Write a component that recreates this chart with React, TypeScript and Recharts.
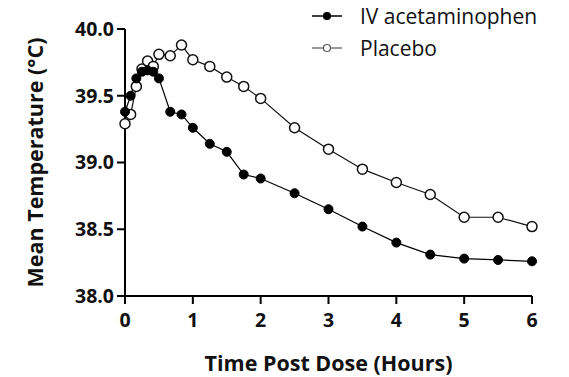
import { LineChart, Line, XAxis, YAxis } from "recharts";

const hours = [0, 0.083, 0.167, 0.25, 0.333, 0.417, 0.5, 0.667, 0.833, 1, 1.25, 1.5, 1.75, 2, 2.5, 3, 3.5, 4, 4.5, 5, 5.5, 6];

const ivAcetaminophen = [39.38, 39.5, 39.63, 39.68, 39.69, 39.68, 39.63, 39.38, 39.36, 39.26, 39.14, 39.08, 38.91, 38.88, 38.77, 38.65, 38.52, 38.4, 38.31, 38.28, 38.27, 38.26];
const placebo = [39.29, 39.36, 39.57, 39.7, 39.76, 39.72, 39.81, 39.8, 39.88, 39.77, 39.72, 39.64, 39.57, 39.48, 39.26, 39.1, 38.95, 38.85, 38.76, 38.59, 38.59, 38.52];

const xTicks = [0, 1, 2, 3, 4, 5, 6];
const yTicks = [38, 38.5, 39, 39.5, 40];

const seriesNames = ["IV acetaminophen", "Placebo"];

const data = hours.map((h, i) => ({ hour: h, iv: ivAcetaminophen[i], placebo: placebo[i] }));

const FONT = "'Open Sans', 'DejaVu Sans', sans-serif";
const tickStyle = { fill: "#111", fontSize: 19.5, fontWeight: 700, fontFamily: FONT };
const titleStyle = { fill: "#111", fontSize: 21.5, fontWeight: 700, fontFamily: FONT };

function LegendBox() {
  return (
    <div style={{ position: "absolute", left: 308, top: 0, fontFamily: FONT, fontSize: 21, color: "#111" }}>
      {seriesNames.map((name, i) => (
        <div key={name} style={{ display: "flex", alignItems: "center", height: 32 }}>
          <svg width={52} height={14}>
            <line x1={4} x2={34} y1={7} y2={7} stroke={i === 0 ? "#000" : "#777"} strokeWidth={1.5} />
            <circle cx={19} cy={7} r={3.5} fill={i === 0 ? "#000" : "#fff"} stroke={i === 0 ? "#000" : "#555"} strokeWidth={1.2} />
          </svg>
          <span>{name}</span>
        </div>
      ))}
    </div>
  );
}

export default function App() {
  return (
    <div style={{ position: "absolute", left: 0, top: 0, width: 569, height: 377, background: "#fff" }}>
      <LineChart width={569} height={377} data={data} margin={{ top: 29, right: 37, bottom: 0, left: 0 }}>
        <XAxis
          dataKey="hour"
          type="number"
          domain={[0, 6]}
          ticks={xTicks}
          height={81}
          tickSize={8}
          tickMargin={9}
          axisLine={{ stroke: "#000", strokeWidth: 2 }}
          tickLine={{ stroke: "#000", strokeWidth: 2 }}
          tick={tickStyle}
          label={{ value: "Time Post Dose (Hours)", position: "insideBottom", offset: 6, style: titleStyle }}
        />
        <YAxis
          type="number"
          domain={[38, 40]}
          ticks={yTicks}
          width={125}
          tickSize={8}
          tickMargin={3}
          tickFormatter={(v: number) => v.toFixed(1)}
          axisLine={{ stroke: "#000", strokeWidth: 2 }}
          tickLine={{ stroke: "#000", strokeWidth: 2 }}
          tick={tickStyle}
          label={{
            value: "Mean Temperature (°C)",
            angle: -90,
            position: "insideLeft",
            offset: 35,
            style: { ...titleStyle, textAnchor: "middle" },
          }}
        />
        <Line
          dataKey="placebo"
          name="Placebo"
          stroke="#111"
          strokeWidth={1.2}
          isAnimationActive={false}
          dot={{ r: 5, fill: "#fff", stroke: "#111", strokeWidth: 1.5 }}
        />
        <Line
          dataKey="iv"
          name="IV acetaminophen"
          stroke="#000"
          strokeWidth={1.2}
          isAnimationActive={false}
          dot={{ r: 4.5, fill: "#000", stroke: "#000", strokeWidth: 1 }}
        />
      </LineChart>
      <LegendBox />
    </div>
  );
}
